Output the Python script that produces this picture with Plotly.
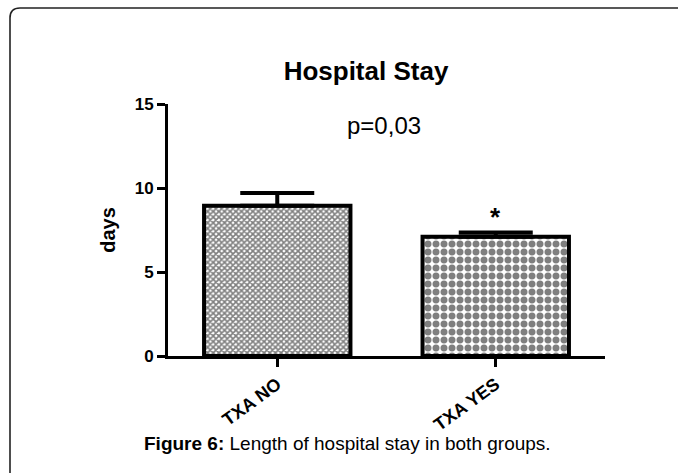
import plotly.graph_objects as go

categories = ["TXA NO", "TXA YES"]
mean_days = [8.95, 7.1]
sem_days = [0.75, 0.25]
y_ticks = [0, 5, 10, 15]
title_text = "<b>Hospital Stay</b>"
p_text = "p=0,03"
sig_marks = ["", "*"]
caption = "<b>Figure 6:</b> Length of hospital stay in both groups."

W, H = 678, 473
L, R, T, B = 168, 73, 104, 117
pw, ph = W - L - R, H - T - B

def px_to_paper_x(px):
    return (px - L) / pw

def px_to_paper_y(py):
    return (H - B - py) / ph

fig = go.Figure()
patterns = [dict(shape="x", size=4, solidity=0.65, fgcolor="black", bgcolor="white"),
            dict(shape=".", size=8, solidity=0.6, fgcolor="black", bgcolor="white")]
for i, cat in enumerate(categories):
    fig.add_trace(go.Bar(
        x=[cat], y=[mean_days[i]], width=0.67,
        marker=dict(color="white", line=dict(color="black", width=4), pattern=patterns[i]),
        error_y=dict(type="data", array=[sem_days[i]], arrayminus=[0], symmetric=False,
                     color="black", thickness=4, width=37),
        showlegend=False,
    ))

fig.add_annotation(x=0.49, y=13.7, xref="x", yref="y", text=p_text, showarrow=False,
                   font=dict(family="Arial", size=24, color="black"))
for i, m in enumerate(sig_marks):
    if m:
        fig.add_annotation(x=categories[i], y=mean_days[i] + sem_days[i], xref="x", yref="y",
                           text="<b>" + m + "</b>", showarrow=False, yanchor="bottom", yshift=-1,
                           font=dict(family="Arial", size=26, color="black"))

fig.add_annotation(x=px_to_paper_x(347), y=px_to_paper_y(443), xref="paper", yref="paper",
                   text=caption, showarrow=False, xanchor="center", yanchor="middle",
                   font=dict(family="Liberation Sans Narrow, Arial Narrow, Arial", size=19, color="black"))

# frame (top-left rounded border)
x0, y0 = px_to_paper_x(10), px_to_paper_y(8)
rx, ry = 10 / pw, 10 / ph
xe, ye = px_to_paper_x(700), px_to_paper_y(490)
fig.add_shape(type="path", xref="paper", yref="paper",
              path=f"M {x0},{ye} L {x0},{y0 - ry} Q {x0},{y0} {x0 + rx},{y0} L {xe},{y0}",
              line=dict(color="#222", width=1.6))

fig.update_layout(
    width=W, height=H, margin=dict(l=L, r=R, t=T, b=B, pad=0),
    paper_bgcolor="white", plot_bgcolor="white",
    title=dict(text=title_text, x=px_to_paper_x(366), xref="paper", xanchor="center",
               y=1 - 71 / H, yref="container", yanchor="middle",
               font=dict(family="Arial", size=26, color="black")),
    bargap=0.33,
    font=dict(family="Arial", color="black"),
)
fig.update_xaxes(type="category", range=[-0.5, 1.5], showline=True, linecolor="black", linewidth=3,
                 ticks="outside", ticklen=8, tickwidth=3, tickcolor="black", tickangle=-36,
                 tickfont=dict(family="Arial", size=18, color="black"),
                 ticktext=["<b>" + c + "</b>" for c in categories], tickvals=categories,
                 showgrid=False, zeroline=False)
fig.update_yaxes(range=[0, 15], tickvals=y_ticks, ticktext=["<b>%d</b>" % v for v in y_ticks],
                 showline=True, linecolor="black", linewidth=3,
                 ticks="outside", ticklen=8, tickwidth=3, tickcolor="black",
                 tickfont=dict(family="Arial", size=17, color="black"),
                 title=dict(text="<b>days</b>", standoff=14, font=dict(family="Arial", size=20, color="black")),
                 showgrid=False, zeroline=False)

fig.write_html("out.html", config={"displayModeBar": False},
               post_script="document.body.style.margin='0';document.body.style.padding='0';")
